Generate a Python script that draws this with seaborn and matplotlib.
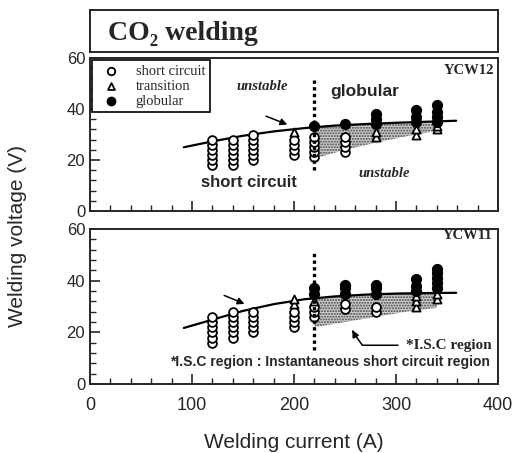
import numpy as np
import pandas as pd
import matplotlib
matplotlib.use('Agg')
import matplotlib.pyplot as plt
import seaborn as sns

sns.set_style('ticks')
plt.rcParams['font.family'] = ['Liberation Sans', 'DejaVu Sans']

# YCW12 (upper panel)
sc_I_12 = [120]*6 + [140]*6 + [160]*6 + [200]*4 + [220]*5 + [250]*4
sc_V_12 = [18, 20, 22, 24, 26, 28,
           18, 20, 22, 24, 26, 28,
           20, 22, 24, 26, 28, 30,
           22, 24, 26, 28,
           21, 23, 25, 27, 29,
           23, 25, 27, 29]
tr_I_12 = [200, 280, 280, 320, 320, 340, 340]
tr_V_12 = [31, 29, 31, 30, 32, 32, 33.5]
gl_I_12 = [220, 250, 280, 280, 280, 320, 320, 320, 340, 340, 340, 340]
gl_V_12 = [33.5, 34, 34, 36, 38, 35, 37, 39.5, 35, 37, 39, 41.5]

# YCW11 (lower panel)
sc_I_11 = [120]*6 + [140]*6 + [160]*5 + [200]*4 + [220]*3 + [250]*2 + [280]*2
sc_V_11 = [16, 18, 20, 22, 24, 26,
           18, 20, 22, 24, 26, 28,
           20, 22, 24, 26, 28,
           22, 24, 26, 28,
           26, 28, 30,
           29, 31,
           28, 30]
tr_I_11 = [200, 200, 220, 320, 320, 320, 340, 340]
tr_V_11 = [31, 33, 32, 30, 32, 34, 33, 35]
gl_I_11 = [220, 220, 250, 250, 250, 280, 280, 280, 320, 320, 320, 340, 340, 340, 340, 340]
gl_V_11 = [35, 37, 35, 37, 38.5, 35, 37, 38.5, 36, 38, 40.5, 37, 39, 41, 43, 44.5]

# boundary curves
curve_I = [92, 120, 150, 180, 210, 240, 270, 300, 330, 359]
curve_V_12 = [25.0, 27.3, 29.5, 31.2, 32.5, 33.5, 34.1, 34.6, 35.0, 35.4]
curve_V_11 = [21.7, 24.9, 28.3, 30.9, 32.8, 33.9, 34.6, 35.0, 35.2, 35.3]

# instantaneous short circuit (shaded) region
isc_I = [220, 250, 280, 310, 340]
isc_hi_12 = [32.8, 33.8, 34.3, 34.8, 35.2]
isc_lo_12 = [20.6, 24.0, 26.8, 29.3, 31.5]
isc_hi_11 = [33.0, 34.0, 34.7, 35.1, 35.2]
isc_lo_11 = [22.0, 24.0, 26.0, 28.0, 29.5]

serif = ['Liberation Serif', 'DejaVu Serif']


def draw_panel(ax, sc_I, sc_V, tr_I, tr_V, gl_I, gl_V, cv, lo, hi):
    ax.fill_between(isc_I, lo, hi, facecolor='#cfcfcf', hatch='......',
                    edgecolor='#444444', linewidth=0, zorder=1)
    sns.lineplot(x=curve_I, y=cv, color='black', lw=1.6, ax=ax, zorder=2)
    sc = pd.DataFrame({'I': sc_I, 'V': sc_V})
    tr = pd.DataFrame({'I': tr_I, 'V': tr_V})
    gl = pd.DataFrame({'I': gl_I, 'V': gl_V})
    sns.scatterplot(data=sc, x='I', y='V', marker='o', s=40, color='black',
                    facecolor='white', edgecolor='black', linewidth=1.3,
                    ax=ax, zorder=3, label='short circuit')
    sns.scatterplot(data=tr, x='I', y='V', marker='^', s=34, color='black',
                    facecolor='white', edgecolor='black', linewidth=1.3,
                    ax=ax, zorder=3, label='transition')
    sns.scatterplot(data=gl, x='I', y='V', marker='o', s=50, color='black',
                    edgecolor='black', linewidth=1,
                    ax=ax, zorder=4, label='globular')
    ax.set_xlim(0, 400)
    ax.set_ylim(0, 60)
    ax.set_yticks([0, 20, 40, 60])
    ax.set_xticks([0, 100, 200, 300, 400])
    ax.set_xticks(np.arange(0, 401, 20), minor=True)
    ax.set_yticks(np.arange(0, 61, 4), minor=True)
    ax.tick_params(direction='in', which='major', length=7, width=1.2, labelsize=12)
    ax.tick_params(direction='in', which='minor', length=4, width=1)
    ax.tick_params(axis='x', labelsize=13, pad=9)
    ax.set_xlabel('')
    ax.set_ylabel('')
    for s in ax.spines.values():
        s.set_linewidth(1.4)
        s.set_visible(True)


fig = plt.figure(figsize=(5.18, 4.53), dpi=100)
ax_t = fig.add_axes([90/518, 1-211/453, 408/518, 153/453])
ax_b = fig.add_axes([90/518, 1-384/453, 408/518, 155/453])
ax_title = fig.add_axes([90/518, 1-52/453, 408/518, 42/453])

draw_panel(ax_t, sc_I_12, sc_V_12, tr_I_12, tr_V_12, gl_I_12, gl_V_12,
           curve_V_12, isc_lo_12, isc_hi_12)
draw_panel(ax_b, sc_I_11, sc_V_11, tr_I_11, tr_V_11, gl_I_11, gl_V_11,
           curve_V_11, isc_lo_11, isc_hi_11)
ax_t.tick_params(axis='x', labelbottom=False)

leg = ax_t.legend(loc='upper left', bbox_to_anchor=(0.005, 0.985), fancybox=False,
                  edgecolor='black', framealpha=1, borderaxespad=0.0,
                  handletextpad=0.7, labelspacing=0.12, borderpad=0.3,
                  markerscale=0.85, prop={'family': serif, 'size': 10.5})
leg.get_frame().set_linewidth(1.2)
ax_b.get_legend().remove()

# upper panel annotations
ax_t.vlines(220, 16, 52, colors='black', linestyles=(0, (1, 1)), lw=2.4, zorder=5)
ax_t.text(169, 49, 'unstable', family=serif, style='italic', weight='bold',
          fontsize=10.5, ha='center', va='center')
ax_t.text(269, 47, 'globular', weight='bold', fontsize=12.5, ha='center', va='center')
ax_t.text(156, 11, 'short circuit', weight='bold', fontsize=12, ha='center', va='center')
ax_t.text(288, 14.8, 'unstable', family=serif, style='italic', weight='bold',
          fontsize=10.5, ha='center', va='center')
ax_t.text(396, 55, 'YCW12', family=serif, weight='bold', fontsize=10.5,
          ha='right', va='center')
ax_t.annotate('', xy=(196, 33.5), xytext=(170, 37.6),
              arrowprops=dict(arrowstyle='-|>', color='black', lw=1.1,
                              mutation_scale=10))

# lower panel annotations
ax_b.vlines(220, 13, 51, colors='black', linestyles=(0, (1, 1)), lw=2.4, zorder=5)
ax_b.text(395, 57.5, 'YCW11', family=serif, weight='bold', fontsize=10.5,
          ha='right', va='center')
ax_b.annotate('', xy=(154, 30.6), xytext=(129, 34.7),
              arrowprops=dict(arrowstyle='-|>', color='black', lw=1.1,
                              mutation_scale=10))
ax_b.text(394, 15, '*I.S.C region', family=serif, weight='bold', fontsize=11,
          ha='right', va='center')
ax_b.plot([302, 267, 258], [15, 15, 20], color='black', lw=1.1)
ax_b.annotate('', xy=(256, 21.8), xytext=(259, 19.5),
              arrowprops=dict(arrowstyle='-|>', color='black', lw=1.1,
                              mutation_scale=10))
ax_b.text(235, 8.5, '*I.S.C region : Instantaneous short circuit region',
          weight='bold', fontsize=10, ha='center', va='center')

# title box
ax_title.set_xticks([])
ax_title.set_yticks([])
for s in ax_title.spines.values():
    s.set_linewidth(1.4)
ax_title.text(0.045, 0.45, 'CO\u2082 welding', family=serif, weight='bold',
              fontsize=20, ha='left', va='center', transform=ax_title.transAxes)

ax_b.set_xlabel('Welding current (A)', fontsize=15, labelpad=14)
fig.text(18/518, 1-236/453, 'Welding voltage (V)', rotation=90,
         fontsize=15, ha='center', va='center')

plt.savefig('out.png', dpi=100)
